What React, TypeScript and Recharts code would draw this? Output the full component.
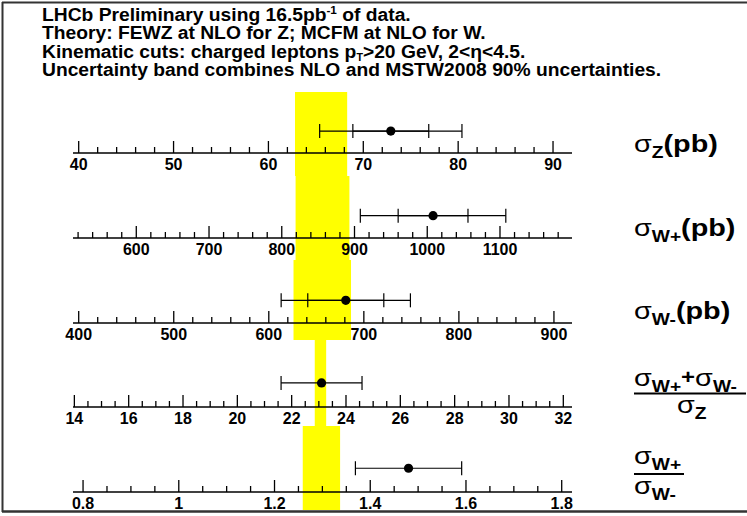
import React from 'react';
import { ScatterChart, Scatter, XAxis, YAxis, ErrorBar, ReferenceArea } from 'recharts';

// one row per measured quantity, top to bottom
const quantities = ['sigmaZ', 'sigmaWplus', 'sigmaWminus', 'sumOverZ', 'plusOverMinus'];
const measured = [72.9, 1008, 681, 23.1, 1.48];
const innerErr = [4.0, 48, 40, 0, 0];
const outerErr = [7.5, 100, 68, 1.49, 0.111];
const theoryLow = [62.8, 819, 626, 22.85, 1.259];
const theoryHigh = [68.3, 893, 686.5, 23.27, 1.337];
const axisMin = [39.4, 513, 394, 13.95, 0.779];
const axisMax = [92, 1199, 919, 32.32, 1.8215];
const majorTicks = [
  [40, 50, 60, 70, 80, 90],
  [600, 700, 800, 900, 1000, 1100],
  [400, 500, 600, 700, 800, 900],
  [14, 16, 18, 20, 22, 24, 26, 28, 30, 32],
  [0.8, 1, 1.2, 1.4, 1.6, 1.8],
];
const minorStep = [2, 20, 20, 0.5, 0.05];
const markerLevel = 0.36;

// layout (pixels)
const rowTop = [92, 176, 260, 340, 426];
const rowBottom = [176, 260, 340, 426, 510];
const axisY = [153, 238, 323, 407, 492];
const plotLeft = 73;
const plotRight = 175;
const labelPad = 8; // extra room under each row so labels are not clipped

const FONT = '"Liberation Sans", Arial, Helvetica, sans-serif';

function allTicks(i: number) {
  const step = minorStep[i];
  const out: number[] = [];
  let k = Math.ceil(axisMin[i] / step - 1e-9);
  while (k * step < axisMax[i] - step * 0.1) {
    out.push(Math.round(k * step * 1e6) / 1e6);
    k++;
  }
  return out;
}

function makeTick(majors: number[]) {
  return (props: any) => {
    const { x, y, payload } = props;
    const v = payload.value;
    const major = majors.some((m) => Math.abs(m - v) < 1e-9);
    return (
      <g>
        <line x1={x} x2={x} y1={y} y2={y - (major ? 12 : 6)} stroke="#000" strokeWidth={1.3} />
        {major && (
          <text x={x} y={y + 17} textAnchor="middle" fontFamily={FONT} fontWeight={700} fontSize={16} fill="#000">
            {String(v)}
          </text>
        )}
      </g>
    );
  };
}

const Dot = (p: any) => <circle cx={p.cx} cy={p.cy} r={4.6} fill="#000" />;

function Row({ i }: { i: number }) {
  const top = rowTop[i];
  const h = rowBottom[i] - top;
  const axisH = rowBottom[i] - axisY[i];
  const data = [{ x: measured[i], y: markerLevel, inner: innerErr[i], outer: outerErr[i] }];
  const band = (p: any) => (
    <rect x={p.x} y={p.y} width={p.width} height={p.height + axisH} fill="#ffff00" />
  );
  return (
    <div style={{ position: 'absolute', left: 0, top }}>
      <ScatterChart width={747} height={h + labelPad} margin={{ top: 0, right: plotRight, bottom: 0, left: plotLeft }}>
        <XAxis
          type="number"
          dataKey="x"
          domain={[axisMin[i], axisMax[i]]}
          allowDataOverflow
          ticks={allTicks(i)}
          interval={0}
          tickSize={0}
          tickMargin={0}
          tickLine={false}
          axisLine={{ stroke: '#000', strokeWidth: 1.6 }}
          height={axisH + labelPad}
          tick={makeTick(majorTicks[i])}
        />
        <YAxis type="number" dataKey="y" domain={[0, 1]} hide />
        <ReferenceArea x1={theoryLow[i]} x2={theoryHigh[i]} ifOverflow="visible" shape={band} />
        <Scatter name={quantities[i]} data={data} isAnimationActive={false} shape={Dot}>
          {innerErr[i] > 0 && (
            <ErrorBar dataKey="inner" direction="x" width={7} stroke="#000" strokeWidth={1.2} isAnimationActive={false} />
          )}
          <ErrorBar dataKey="outer" direction="x" width={7} stroke="#000" strokeWidth={1.2} isAnimationActive={false} />
        </Scatter>
      </ScatterChart>
    </div>
  );
}

// sigma with a subscript, written in a horizontally stretched group
function Sig({ sub, tail }: { sub: string; tail?: string }) {
  return (
    <>
      <tspan fontWeight={400}>σ</tspan>
      <tspan dy={6} fontSize={16}>{sub}</tspan>
      {tail && <tspan dy={-6}>{tail}</tspan>}
    </>
  );
}

function Labels() {
  const stretch = 'scale(1.2,1)';
  return (
    <svg width={747} height={516} style={{ position: 'absolute', left: 0, top: 0, pointerEvents: 'none' }}>
      <line x1={2} y1={2.5} x2={747} y2={2.5} stroke="#333" strokeWidth={2} />
      <line x1={2.5} y1={2} x2={2.5} y2={512} stroke="#333" strokeWidth={2} />
      <line x1={2} y1={511.5} x2={747} y2={511.5} stroke="#333" strokeWidth={2.5} />

      <g transform="translate(42,0) scale(1.07,1)" fontFamily={FONT} fontWeight={700} fontSize={18} fill="#000">
        <text x={0} y={21}>
          LHCb Preliminary using 16.5pb
          <tspan dy={-7} fontSize={11}>-1</tspan>
          <tspan dy={7}> of data.</tspan>
        </text>
        <text x={0} y={39.5}>Theory: FEWZ at NLO for Z; MCFM at NLO for W.</text>
        <text x={0} y={58}>
          Kinematic cuts: charged leptons p
          <tspan dy={3} fontSize={10}>T</tspan>
          <tspan dy={-3}>{'>20 GeV, 2<η<4.5.'}</tspan>
        </text>
        <text x={0} y={76.5}>Uncertainty band combines NLO and MSTW2008 90% uncertainties.</text>
      </g>

      <g fontFamily={FONT} fontWeight={700} fontSize={24} fill="#000">
        <g transform={`translate(634,152) ${stretch}`}>
          <text x={0} y={0}><Sig sub="Z" tail="(pb)" /></text>
        </g>
        <g transform={`translate(634,236) ${stretch}`}>
          <text x={0} y={0}><Sig sub="W+" tail="(pb)" /></text>
        </g>
        <g transform={`translate(634,319) ${stretch}`}>
          <text x={0} y={0}><Sig sub="W-" tail="(pb)" /></text>
        </g>

        <g transform={`translate(634,386) ${stretch}`}>
          <text x={0} y={0}>
            <Sig sub="W+" />
            <tspan dy={-8} fontSize={20}>+</tspan>
            <tspan dy={2} fontWeight={400}>σ</tspan>
            <tspan dy={6} fontSize={16}>W-</tspan>
          </text>
        </g>
        <line x1={634} y1={393.5} x2={746} y2={393.5} stroke="#000" strokeWidth={2} />
        <g transform={`translate(677,413) ${stretch}`}>
          <text x={0} y={0}><Sig sub="Z" /></text>
        </g>

        <g transform={`translate(634,464) ${stretch}`}>
          <text x={0} y={0}><Sig sub="W+" /></text>
        </g>
        <line x1={634} y1={474} x2={684} y2={474} stroke="#000" strokeWidth={2} />
        <g transform={`translate(634,494) ${stretch}`}>
          <text x={0} y={0}><Sig sub="W-" /></text>
        </g>
      </g>
    </svg>
  );
}

export default function App() {
  return (
    <div style={{ position: 'absolute', left: 0, top: 0, width: 747, height: 516, background: '#fff', overflow: 'hidden' }}>
      {quantities.map((q, i) => (
        <Row key={q} i={i} />
      ))}
      <Labels />
    </div>
  );
}
